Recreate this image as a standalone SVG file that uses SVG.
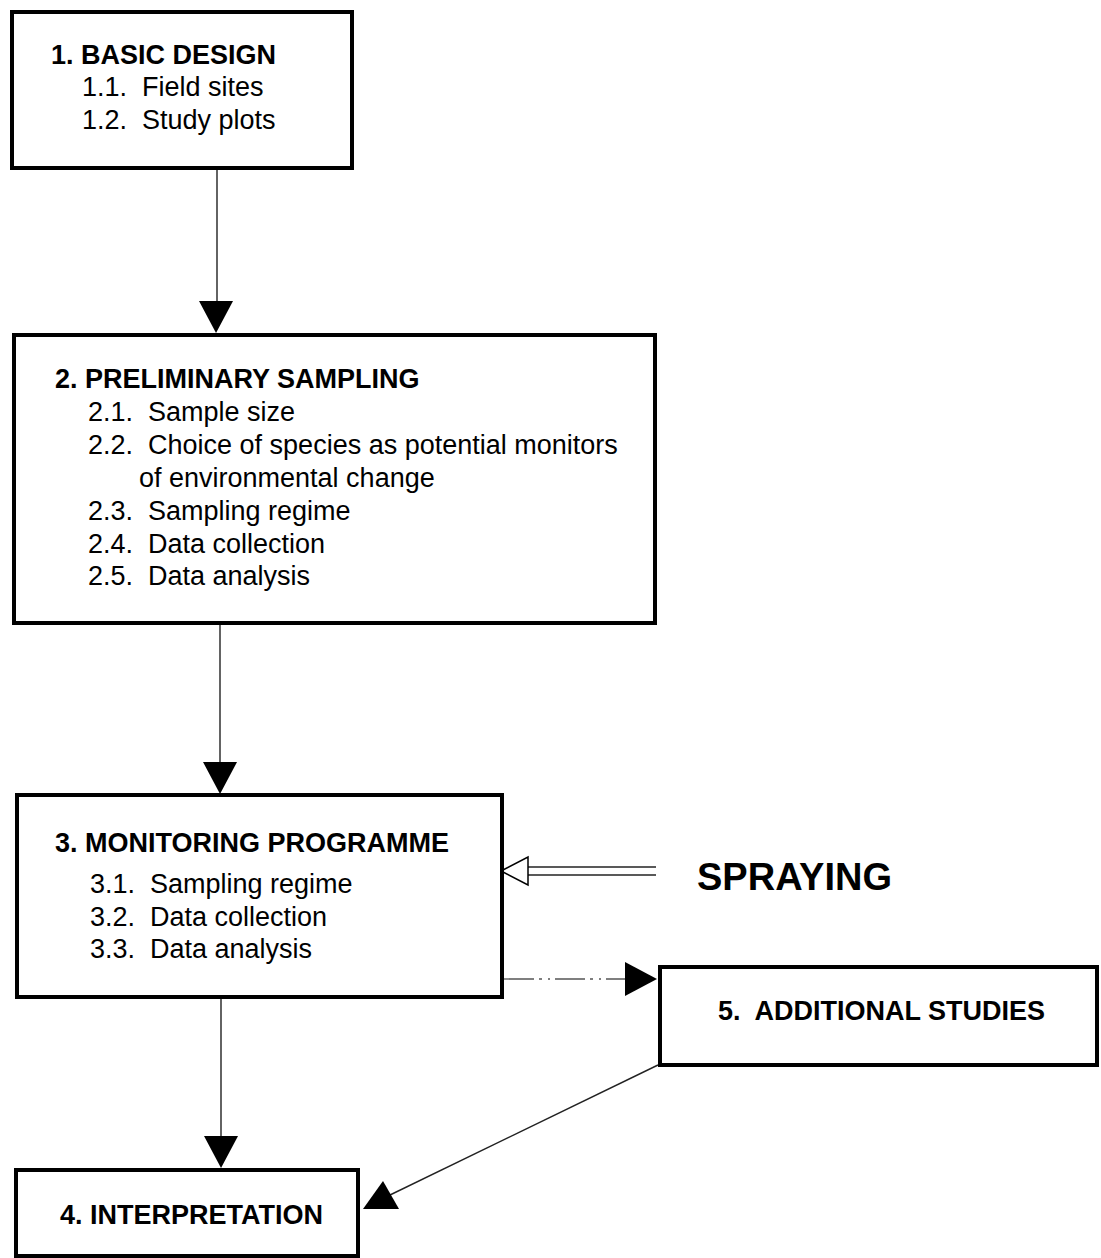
<svg xmlns="http://www.w3.org/2000/svg" width="1101" height="1258" viewBox="0 0 1101 1258">
<style>
.box{fill:#fff;stroke:#000;stroke-width:4}
.t{font-family:"Liberation Sans",Arial,sans-serif;font-size:27px;fill:#000}
.b{font-weight:bold}
.ln{stroke:#222;stroke-width:1.4;fill:none}
.ah{fill:#000}
</style>
<defs>
<path id="down" d="M-17,-32 L17,-32 L0,0 Z"/>
</defs>
<rect width="1101" height="1258" fill="#fff"/>

<g id="connectors">
<line class="ln" x1="217" y1="170" x2="217" y2="302"/>
<use href="#down" class="ah" transform="translate(216,333)"/>
<line class="ln" x1="220" y1="625" x2="220" y2="764"/>
<use href="#down" class="ah" transform="translate(220,794)"/>
<line class="ln" x1="221" y1="999" x2="221" y2="1139"/>
<use href="#down" class="ah" transform="translate(221,1168)"/>
<line x1="504" y1="979" x2="627" y2="979" stroke="#555" stroke-width="1.3" stroke-dasharray="30 5 3 6 2 5"/>
<use href="#down" class="ah" transform="translate(657,979) rotate(-90)"/>
<line class="ln" x1="528" y1="867" x2="656" y2="867" stroke="#444" stroke-width="1.2"/>
<line class="ln" x1="528" y1="875" x2="656" y2="875" stroke="#444" stroke-width="1.2"/>
<polygon points="501,871 528,857 528,885" fill="#fff" stroke="#000" stroke-width="1.5"/>
<line class="ln" x1="658" y1="1065" x2="390" y2="1195"/>
<polygon class="ah" points="363,1209 383,1181 399,1209"/>
</g>

<g id="node1">
<rect class="box" x="12" y="12" width="340" height="156"/>
<text class="t b" x="51" y="64">1. BASIC DESIGN</text>
<text class="t" x="82" y="96" xml:space="preserve">1.1.  Field sites</text>
<text class="t" x="82" y="129" xml:space="preserve">1.2.  Study plots</text>
</g>

<g id="node2">
<rect class="box" x="14" y="335" width="641" height="288"/>
<text class="t b" x="55" y="388">2. PRELIMINARY SAMPLING</text>
<text class="t" x="88" y="421" xml:space="preserve">2.1.  Sample size</text>
<text class="t" x="88" y="454" xml:space="preserve">2.2.  Choice of species as potential monitors</text>
<text class="t" x="139" y="487">of environmental change</text>
<text class="t" x="88" y="520" xml:space="preserve">2.3.  Sampling regime</text>
<text class="t" x="88" y="553" xml:space="preserve">2.4.  Data collection</text>
<text class="t" x="88" y="585" xml:space="preserve">2.5.  Data analysis</text>
</g>

<g id="node3">
<rect class="box" x="17" y="795" width="485" height="202"/>
<text class="t b" x="55" y="852">3. MONITORING PROGRAMME</text>
<text class="t" x="90" y="893" xml:space="preserve">3.1.  Sampling regime</text>
<text class="t" x="90" y="926" xml:space="preserve">3.2.  Data collection</text>
<text class="t" x="90" y="958" xml:space="preserve">3.3.  Data analysis</text>
</g>

<g id="spraying">
<text class="t b" x="697" y="890" style="font-size:38px">SPRAYING</text>
</g>

<g id="node5">
<rect class="box" x="660" y="967" width="437" height="98"/>
<text class="t b" x="718" y="1020" xml:space="preserve">5.  ADDITIONAL STUDIES</text>
</g>

<g id="node4">
<rect class="box" x="16" y="1170" width="342" height="86"/>
<text class="t b" x="60" y="1224">4. INTERPRETATION</text>
</g>
</svg>
